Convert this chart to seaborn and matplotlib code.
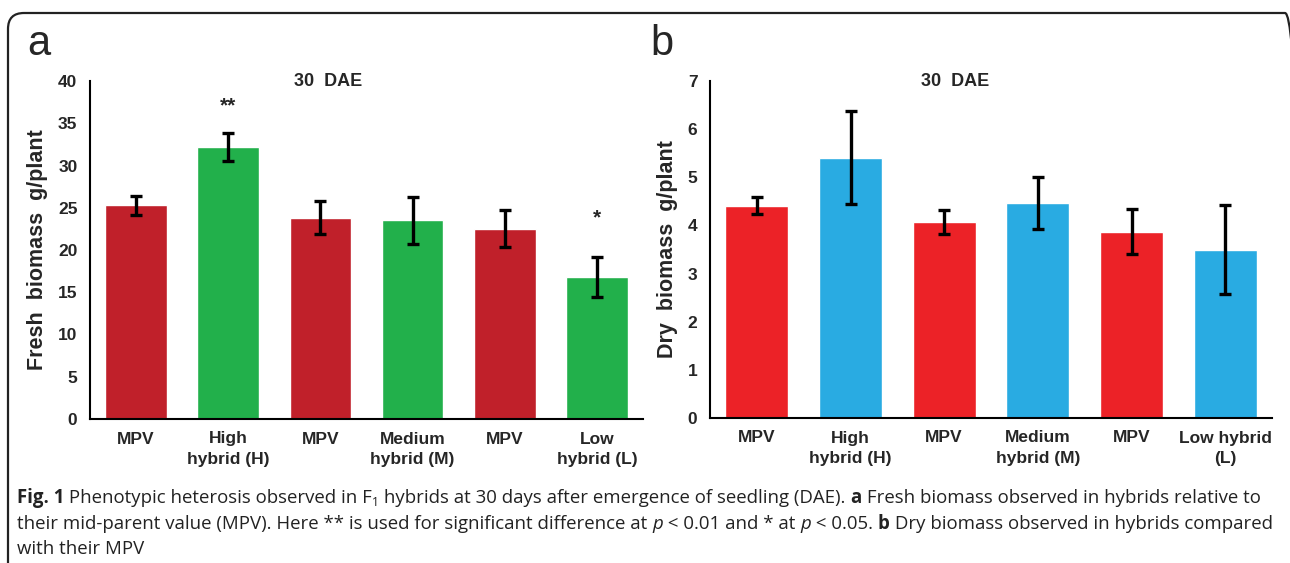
import numpy as np
import pandas as pd
import matplotlib
matplotlib.use("Agg")
import matplotlib.pyplot as plt
import seaborn as sns
from matplotlib import font_manager
from matplotlib.patches import FancyBboxPatch
from matplotlib.transforms import IdentityTransform

# ---------------- data ----------------
keys = ["MPV_H", "H", "MPV_M", "M", "MPV_L", "L"]
labels_a = ["MPV", "High\nhybrid (H)", "MPV", "Medium\nhybrid (M)", "MPV", "Low\nhybrid (L)"]
labels_b = ["MPV", "High\nhybrid (H)", "MPV", "Medium\nhybrid (M)", "MPV", "Low hybrid\n(L)"]
fresh_mean = [25.3, 32.2, 23.8, 23.5, 22.5, 16.8]
fresh_err = [1.10, 1.65, 1.95, 2.75, 2.20, 2.35]
dry_mean = [4.41, 5.41, 4.07, 4.47, 3.87, 3.50]
dry_err = [0.18, 0.96, 0.245, 0.535, 0.47, 0.925]
signif = ["", "**", "", "", "", "*"]
signif_y = [0, 37.0, 0, 0, 0, 23.8]
fresh_ticks = [0, 5, 10, 15, 20, 25, 30, 35, 40]
dry_ticks = [0, 1, 2, 3, 4, 5, 6, 7]
colors_a = ["#C0202A", "#22B04B"] * 3
colors_b = ["#EC2227", "#29ABE2"] * 3

# ---------------- fonts ----------------
def has_font(name):
    try:
        font_manager.findfont(font_manager.FontProperties(family=name), fallback_to_default=False)
        return True
    except Exception:
        return False

NARROW = "Liberation Sans Narrow" if has_font("Liberation Sans Narrow") else "Liberation Sans"
CAP = "Open Sans" if has_font("Open Sans") else "DejaVu Sans"

sns.set_theme(style="white")
plt.rcParams["font.family"] = [NARROW, "DejaVu Sans"]

W, H = 1290, 563
fig = plt.figure(figsize=(W / 100, H / 100), dpi=100)


def ax_rect(x0, x1, ytop, ybot):
    return [x0 / W, 1 - ybot / H, (x1 - x0) / W, (ybot - ytop) / H]


def panel(rect, means, errs, colors, labels, ticks, ylabel, title, title_x):
    ax = fig.add_axes(rect)
    df = pd.DataFrame({"key": keys, "val": means})
    sns.barplot(data=df, x="key", y="val", hue="key", palette=colors,
                width=0.67, legend=False, ax=ax, saturation=1, errorbar=None)
    ax.errorbar(range(len(keys)), means, yerr=errs, fmt="none", ecolor="black",
                elinewidth=2.4, capsize=4.5, capthick=2.4, zorder=5)
    ax.set_xlim(-0.5, len(keys) - 0.5)
    ax.set_ylim(ticks[0], ticks[-1])
    ax.set_yticks(ticks)
    ax.set_yticklabels([str(t) for t in ticks], fontsize=12.5, fontweight="bold")
    ax.set_xticks(range(len(keys)))
    ax.set_xticklabels(labels, fontsize=12.5, fontweight="bold", linespacing=1.45)
    ax.set_xticks(np.arange(-0.5, len(keys), 1), minor=True)
    ax.tick_params(axis="x", which="major", length=0, pad=9)
    ax.tick_params(axis="x", which="minor", length=6, width=1.4, direction="out", color="black")
    ax.tick_params(axis="y", which="major", length=5, width=1.4, direction="out", color="black", pad=4)
    for s in ["top", "right"]:
        ax.spines[s].set_visible(False)
    for s in ["left", "bottom"]:
        ax.spines[s].set_color("black")
        ax.spines[s].set_linewidth(1.5)
    ax.set_xlabel("")
    ax.set_ylabel(ylabel, fontsize=15.5, fontweight="bold", labelpad=7)
    ax.text(title_x, 1.0, title, transform=ax.transAxes, ha="center", va="center",
            fontsize=13, fontweight="bold")
    return ax


axa = panel(ax_rect(90, 643, 81, 419), fresh_mean, fresh_err, colors_a, labels_a,
            fresh_ticks, "Fresh  biomass  g/plant", "30  DAE", 0.43)
for i, (s, y) in enumerate(zip(signif, signif_y)):
    if s:
        axa.text(i, y, s, ha="center", va="center", fontsize=15, fontweight="bold")

axb = panel(ax_rect(710, 1272, 81, 418), dry_mean, dry_err, colors_b, labels_b,
            dry_ticks, "Dry  biomass  g/plant", "30  DAE", 0.436)

# panel letters
fig.text(27 / W, 1 - 44 / H, "a", fontsize=30, va="center", ha="left", family="Liberation Sans")
fig.text(650 / W, 1 - 44 / H, "b", fontsize=30, va="center", ha="left", family="Liberation Sans")

# frame
frame = FancyBboxPatch((8, -40), 1293, (H - 13) + 40,
                       boxstyle="round,pad=0,rounding_size=16",
                       transform=IdentityTransform(), fill=False,
                       edgecolor="#222222", linewidth=1.6, clip_on=False)
fig.patches.append(frame)

# caption with mixed styles
renderer = fig.canvas.get_renderer()
CAP_SIZE = 13.4


def write_runs(x, y_px, runs):
    for txt, style in runs:
        kw = dict(fontsize=CAP_SIZE, family=[CAP, "DejaVu Sans"], color="#222222",
                  va="baseline", ha="left", transform=IdentityTransform())
        yy = H - y_px
        if style == "b":
            kw["fontweight"] = "bold"
        elif style == "i":
            kw["fontstyle"] = "italic"
        elif style == "sub":
            kw["fontsize"] = CAP_SIZE * 0.65
            yy -= 3
        t = fig.text(x, yy, txt, **kw)
        bb = t.get_window_extent(renderer)
        x = bb.x1
    return x


line1 = [("Fig. 1", "b"), (" Phenotypic heterosis observed in F", "n"), ("1", "sub"),
         (" hybrids at 30 days after emergence of seedling (DAE). ", "n"), ("a", "b"),
         (" Fresh biomass observed in hybrids relative to", "n")]
line2 = [("their mid-parent value (MPV). Here ** is used for significant difference at ", "n"),
         ("p", "i"), (" < 0.01 and * at ", "n"), ("p", "i"), (" < 0.05. ", "n"), ("b", "b"),
         (" Dry biomass observed in hybrids compared", "n")]
line3 = [("with their MPV", "n")]

write_runs(17, 503, line1)
write_runs(17, 529, line2)
write_runs(17, 554, line3)

fig.savefig("out.png", dpi=100)
